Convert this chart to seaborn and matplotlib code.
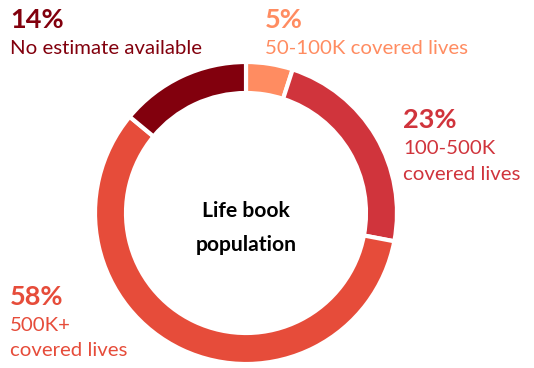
import matplotlib
matplotlib.use("Agg")
import matplotlib.pyplot as plt
import seaborn as sns

sns.set_theme(style="white")
plt.rcParams["font.family"] = ["Lato", "DejaVu Sans"]

# Segments, clockwise from 12 o'clock
segments = ["50-100K covered lives", "100-500K covered lives",
            "500K+ covered lives", "No estimate available"]
shares = [5, 23, 58, 14]
colors = ["#FF8C61", "#D0343C", "#E64C3A", "#82000D"]

W, H = 534, 368
fig = plt.figure(figsize=(W / 100, H / 100), dpi=100)
ax = fig.add_axes([0, 0, 1, 1])
ax.set_xlim(0, W)
ax.set_ylim(0, H)
ax.set_aspect("equal")
ax.axis("off")

cx, cy = 246, H - 213
ax.pie(shares, colors=colors, startangle=90, counterclock=False,
       radius=151, center=(cx, cy), frame=True,
       wedgeprops=dict(width=31, edgecolor="white", linewidth=3))
ax.set_xlim(0, W)
ax.set_ylim(0, H)
ax.axis("off")


def y(top):
    return H - top


PCT = 19.5
LBL = 14.7

# label blocks: (x, baseline of percent, label lines, color)
blocks = [
    (10, 28, f"{shares[3]}%", ["No estimate available"], colors[3]),
    (265, 28, f"{shares[0]}%", ["50-100K covered lives"], colors[0]),
    (403, 128, f"{shares[1]}%", ["100-500K", "covered lives"], colors[1]),
    (10, 305, f"{shares[2]}%", ["500K+", "covered lives"], colors[2]),
]
for x0, base, pct, lines, col in blocks:
    ax.text(x0, y(base), pct, fontsize=PCT, fontweight="bold",
            color=col, ha="left", va="baseline")
    for i, line in enumerate(lines):
        ax.text(x0, y(base + 26 + 25.5 * i), line, fontsize=LBL,
                color=col, ha="left", va="baseline")

ax.text(cx, y(217), "Life book", fontsize=15.2, fontweight="bold",
        color="black", ha="center", va="baseline")
ax.text(cx, y(251), "population", fontsize=15.2, fontweight="bold",
        color="black", ha="center", va="baseline")

fig.savefig("out.png", dpi=100, facecolor="white")
